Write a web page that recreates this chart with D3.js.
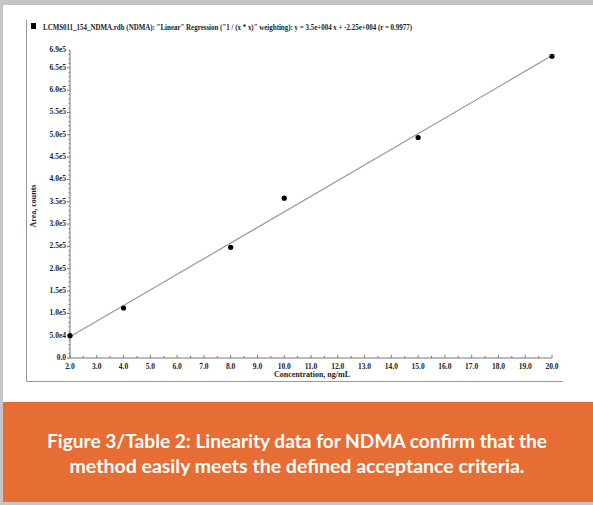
<!DOCTYPE html>
<html><head><meta charset="utf-8">
<script src="https://cdn.jsdelivr.net/npm/d3@7"></script>
<style>html,body{margin:0;padding:0;background:#c6c6c8;}svg{display:block;}</style>
</head><body>
<svg id="c" width="593" height="505"></svg>
<script>
const concentrations = [2, 4, 8, 10, 15, 20];
const areas = [50000, 112000, 248000, 358000, 494000, 676000];
const slope = 3.5e4, intercept = -2.25e4;
const xTicks = [2,3,4,5,6,7,8,9,10,11,12,13,14,15,16,17,18,19,20];
const yTicks = [0,50000,100000,150000,200000,250000,300000,350000,400000,450000,500000,550000,600000,650000,690000];
const yTickLabels = ["0.0","5.0e4","1.0e5","1.5e5","2.0e5","2.5e5","3.0e5","3.5e5","4.0e5","4.5e5","5.0e5","5.5e5","6.0e5","6.5e5","6.9e5"];
const titleText = 'LCMS011_154_NDMA.rdb (NDMA): "Linear" Regression ("1 / (x * x)" weighting): y = 3.5e+004 x + -2.25e+004 (r = 0.9977)';
const xLabel = "Concentration, ng/mL";
const yLabel = "Area, counts";
const caption = ["Figure 3/Table 2: Linearity data for NDMA confirm that the", "method easily meets the defined acceptance criteria."];

const svg = d3.select("#c");
svg.append("rect").attr("x",3).attr("y",5).attr("width",590).attr("height",397).attr("fill","#fff");
svg.append("rect").attr("x",3).attr("y",402).attr("width",590).attr("height",100).attr("fill","#e66d33");

// frame
svg.append("path").attr("d","M26.5,20V381.5H563").attr("fill","none").attr("stroke","#999").attr("stroke-width",1);

const x = d3.scaleLinear().domain([2,20]).range([70,552]);
const y = d3.scaleLinear().domain([0,690000]).range([358,50]);
const serif = "'Liberation Serif','Times New Roman',serif";

// axes
const gx = svg.append("g").attr("transform","translate(0,358)");
gx.append("line").attr("x1",x(2)).attr("x2",x(20)).attr("stroke","#777");
const xMinor = d3.range(2,20.001,0.5);
gx.selectAll(".mx").data(xMinor).join("line").attr("x1",d=>x(d)).attr("x2",d=>x(d)).attr("y1",0).attr("y2",d=>Number.isInteger(d)?-3:-2).attr("stroke","#777");
gx.selectAll(".tx").data(xTicks).join("text").attr("x",d=>x(d)).attr("y",11).attr("text-anchor","middle")
  .attr("font-family",serif).attr("font-size",7.5).attr("font-weight","bold").attr("fill","#222").text(d=>d.toFixed(1));

const gy = svg.append("g").attr("transform","translate(70,0)");
gy.append("line").attr("y1",y(0)).attr("y2",y(690000)).attr("stroke","#777");
const yMinor = d3.range(0,690001,10000);
gy.selectAll(".my").data(yMinor).join("line").attr("y1",d=>y(d)).attr("y2",d=>y(d)).attr("x1",0).attr("x2",d=>d%50000===0?-3:-1.5).attr("stroke","#777");
gy.selectAll(".ty").data(yTicks).join("text").attr("x",-4).attr("y",d=>y(d)+2).attr("text-anchor","end")
  .attr("font-family",serif).attr("font-size",7.5).attr("font-weight","bold").attr("fill","#222").text((d,i)=>yTickLabels[i]);

// regression line
svg.append("line").attr("x1",x(2)).attr("y1",y(slope*2+intercept)).attr("x2",x(20)).attr("y2",y(slope*20+intercept))
  .attr("stroke","#999").attr("stroke-width",1.2);

// points
svg.selectAll(".pt").data(concentrations).join("circle").attr("cx",d=>x(d)).attr("cy",(d,i)=>y(areas[i])).attr("r",2.6).attr("fill","#000");

// legend/title
svg.append("rect").attr("x",31).attr("y",23).attr("width",5).attr("height",6).attr("fill","#000");
svg.append("text").attr("x",43).attr("y",30).attr("font-family",serif).attr("font-size",8).attr("font-weight","bold").attr("fill","#222")
  .attr("textLength",369).attr("lengthAdjust","spacingAndGlyphs").text(titleText);

// axis labels
svg.append("text").attr("x",312).attr("y",377).attr("text-anchor","middle").attr("font-family",serif).attr("font-size",8).attr("font-weight","bold").attr("fill","#222").text(xLabel);
svg.append("text").attr("transform","translate(36,206) rotate(-90)").attr("text-anchor","middle").attr("font-family",serif).attr("font-size",8).attr("font-weight","bold").attr("fill","#222").text(yLabel);

// caption
const capW = [500, 455];
svg.selectAll(".cap").data(caption).join("text").attr("x",297).attr("y",(d,i)=>448+i*25).attr("text-anchor","middle")
  .attr("font-family","Lato,'Open Sans',sans-serif").attr("font-weight","bold").attr("font-size",19).attr("fill","#fff")
  .attr("textLength",(d,i)=>capW[i]).attr("lengthAdjust","spacingAndGlyphs").text(d=>d);
</script>
</body></html>
